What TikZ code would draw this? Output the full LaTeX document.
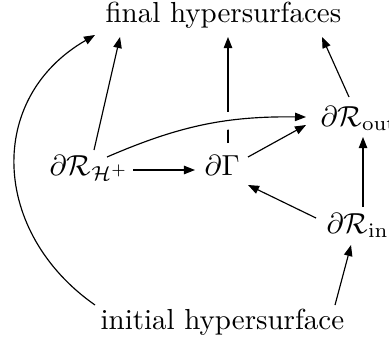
\documentclass[tikz,border=0pt]{standalone}
\usetikzlibrary{arrows.meta,calc}
\begin{document}
\begin{tikzpicture}[x=0.345pt,y=-0.345pt,
  lbl/.style={inner sep=0pt,anchor=base west},
  arr/.style={-{Triangle[length=3.8pt,width=2.9pt]},line width=0.4pt},
  over/.style={preaction={draw=white,line width=6pt,-}}]
\useasboundingbox (0,0) rectangle (389,342);
\node[lbl] (final) at (105,22.7) {final hypersurfaces};
\node[lbl] (init) at (100,329) {initial hypersurface};
\node[lbl] (hp) at (49,175) {$\partial\mathcal{R}_{\mathcal{H}^+}$};
\node[lbl] (dg) at (204,175) {$\partial\Gamma$};
\node[lbl] (out) at (320,126) {$\partial\mathcal{R}_{\mathrm{out}}$};
\node[lbl] (in) at (326,233) {$\partial\mathcal{R}_{\mathrm{in}}$};
% arrows
\draw[arr] ($(hp.base west)+(45,-25)$) -- ($(final.base west)+(15,14.3)$);
\draw[arr] ($(init.base west)+(-5,-24)$) to[out=145,in=-150,looseness=1.2] ($(final.base west)+(-10,12.3)$);
\draw[arr] ($(hp.base west)+(84,-5)$) -- ($(dg.base west)+(-9,-5)$);
\draw[arr] ($(dg.base west)+(24,-32)$) -- ($(final.base west)+(123,14.3)$);
\draw[arr,over] ($(hp.base west)+(58,-18)$) to[bend left=12] ($(out.base west)+(-14,-9)$);
\draw[arr] ($(dg.base west)+(44,-18)$) -- ($(out.base west)+(-14,-1)$);
\draw[arr] ($(in.base west)+(-10,-15)$) -- ($(dg.base west)+(44,10)$);
\draw[arr] ($(in.base west)+(37,-26)$) -- ($(out.base west)+(43,11)$);
\draw[arr] ($(init.base west)+(235,-24)$) -- ($(in.base west)+(25,12)$);
\draw[arr] ($(out.base west)+(29,-29)$) -- ($(final.base west)+(217,14.3)$);
\end{tikzpicture}
\end{document}
